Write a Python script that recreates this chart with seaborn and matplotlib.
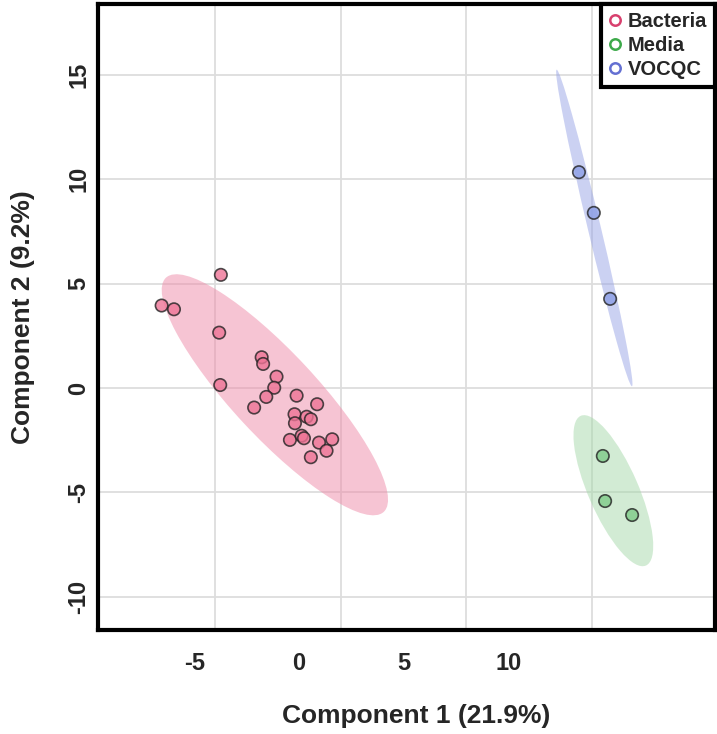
import numpy as np
import pandas as pd
import matplotlib
matplotlib.use("Agg")
import matplotlib.pyplot as plt
from matplotlib.patches import Ellipse
from matplotlib.lines import Line2D
from matplotlib.ticker import FixedLocator
import seaborn as sns

# scores
bacteria_x = [-3.73, -6.56, -5.97, -3.81, -1.78, -1.71, -3.76, -1.07, -1.18, -1.56, -2.14, -0.11,
              0.87, -0.21, -0.19, 0.37, 0.57, -0.43, 0.13, 0.24, 0.96, 1.59, 1.32, 0.57]
bacteria_y = [5.42, 3.95, 3.77, 2.65, 1.47, 1.15, 0.14, 0.54, 0.01, -0.43, -0.94, -0.37,
              -0.78, -1.26, -1.69, -1.38, -1.50, -2.49, -2.29, -2.41, -2.62, -2.46, -3.01, -3.32]
media_x = [14.52, 14.63, 15.92]
media_y = [-3.26, -5.42, -6.09]
vocqc_x = [13.38, 14.09, 14.87]
vocqc_y = [10.34, 8.39, 4.27]

groups = ["Bacteria", "Media", "VOCQC"]
point_colors = ["#EE7496", "#7FCB88", "#8C9EE6"]
ellipse_colors = ["#EE8AA8", "#A6D9AA", "#98A4E6"]
legend_colors = ["#D8406E", "#3DAA4A", "#6470D2"]

x_ticks = [-5, 0, 5, 10]
y_ticks = [-10, -5, 0, 5, 10, 15]
x_grid = [-10, -4, 2, 8, 14]

df = pd.DataFrame({
    "x": bacteria_x + media_x + vocqc_x,
    "y": bacteria_y + media_y + vocqc_y,
    "group": ["Bacteria"] * len(bacteria_x) + ["Media"] * len(media_x) + ["VOCQC"] * len(vocqc_x),
})

sns.set_style("white")
plt.rcParams["font.family"] = ["Liberation Sans", "DejaVu Sans"]

fig = plt.figure(figsize=(7.17, 7.34), dpi=100)
ax = fig.add_axes([98 / 717, 1 - 630 / 734, 617 / 717, 626 / 734])

# 95% confidence ellipses
chi = np.sqrt(5.991)
for g, c in zip(groups, ellipse_colors):
    sub = df[df["group"] == g]
    cov = np.cov(sub["x"], sub["y"])
    vals, vecs = np.linalg.eigh(cov)
    order = vals.argsort()[::-1]
    vals, vecs = vals[order], vecs[:, order]
    angle = np.degrees(np.arctan2(vecs[1, 0], vecs[0, 0]))
    ell = Ellipse((sub["x"].mean(), sub["y"].mean()), 2 * chi * np.sqrt(vals[0]),
                  2 * chi * np.sqrt(max(vals[1], 0)), angle=angle,
                  facecolor=c, edgecolor="none", alpha=0.5, zorder=1)
    ax.add_patch(ell)

sns.scatterplot(data=df, x="x", y="y", hue="group", palette=dict(zip(groups, point_colors)),
                s=80, edgecolor="#222222", linewidth=1.2, alpha=0.8, legend=False, ax=ax, zorder=3)

ax.set_xlim(-9.6, 19.88)
ax.set_ylim(-11.6, 18.4)
ax.xaxis.set_major_locator(FixedLocator(x_ticks))
ax.xaxis.set_minor_locator(FixedLocator(x_grid))
ax.yaxis.set_major_locator(FixedLocator(y_ticks))
ax.set_xticklabels([str(t) for t in x_ticks], fontsize=17, fontweight="bold")
ax.set_yticklabels([str(t) for t in y_ticks], fontsize=17, fontweight="bold", rotation=90, va="center")
ax.grid(which="minor", axis="x", color="#dddddd", linewidth=1.3, zorder=0)
ax.grid(which="major", axis="y", color="#dddddd", linewidth=1.3, zorder=0)
ax.grid(which="major", axis="x", visible=False)
ax.set_axisbelow(True)
ax.tick_params(which="major", direction="out", length=5, width=1, color="#aaaaaa")
ax.tick_params(which="minor", length=0)
ax.tick_params(axis="x", pad=11)
ax.tick_params(axis="y", pad=0.5)

for sp in ax.spines.values():
    sp.set_linewidth(3)
    sp.set_color("black")

ax.set_xlabel("Component 1 (21.9%)", fontsize=19, fontweight="bold")
ax.xaxis.set_label_coords(0.515, -0.118)
ax.set_ylabel("Component 2 (9.2%)", fontsize=19, fontweight="bold", labelpad=23)

handles = [Line2D([], [], marker="o", linestyle="none", markerfacecolor="none",
                  markeredgecolor=c, markeredgewidth=1.8, markersize=7.5) for c in legend_colors]
leg = ax.legend(handles, groups, loc="upper right", frameon=True, fancybox=False,
                borderaxespad=0, handlelength=0.6, handletextpad=0.3, labelspacing=0.25,
                borderpad=0.4, prop={"weight": "bold", "size": 14.5})
leg.get_frame().set_edgecolor("black")
leg.get_frame().set_linewidth(3)
leg.get_frame().set_alpha(1)

fig.savefig("out.png", dpi=100)
